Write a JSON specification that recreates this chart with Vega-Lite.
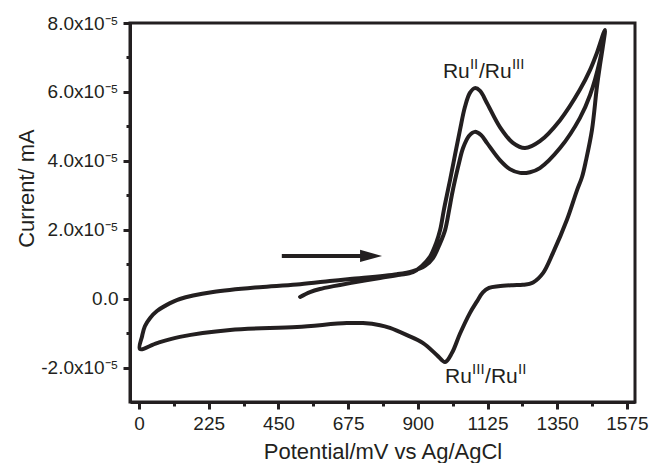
{
  "$schema": "https://vega.github.io/schema/vega-lite/v6.json",
  "width": 505,
  "height": 379,
  "autosize": "none",
  "padding": {"left": 130, "top": 23, "right": 17, "bottom": 61},
  "background": "white",
  "config": {
    "view": {"stroke": "#231f20", "strokeWidth": 3},
    "font": "Liberation Sans",
    "text": {"font": "Liberation Sans", "color": "#231f20"},
    "axis": {
      "grid": false,
      "domainColor": "#231f20", "domainWidth": 3,
      "tickColor": "#231f20", "tickWidth": 3,
      "labelColor": "#231f20", "labelFont": "Liberation Sans", "labelFontSize": 19,
      "titleColor": "#231f20", "titleFont": "Liberation Sans", "titleFontSize": 22, "titleFontWeight": "normal"
    }
  },
  "resolve": {"axis": {"x": "independent", "y": "independent"}},
  "datasets": {
    "cv": [
      {"i": 1, "E": 520, "I": 0.05e-5},
      {"i": 2, "E": 552, "I": 0.19e-5},
      {"i": 3, "E": 584, "I": 0.28e-5},
      {"i": 4, "E": 633, "I": 0.37e-5},
      {"i": 5, "E": 681, "I": 0.45e-5},
      {"i": 6, "E": 778, "I": 0.60e-5},
      {"i": 7, "E": 842, "I": 0.69e-5},
      {"i": 8, "E": 884, "I": 0.77e-5},
      {"i": 9, "E": 913, "I": 0.95e-5},
      {"i": 10, "E": 939, "I": 1.21e-5},
      {"i": 11, "E": 959, "I": 1.61e-5},
      {"i": 12, "E": 972, "I": 1.99e-5},
      {"i": 13, "E": 984, "I": 2.57e-5},
      {"i": 14, "E": 994, "I": 3.01e-5},
      {"i": 15, "E": 1004, "I": 3.44e-5},
      {"i": 16, "E": 1020, "I": 4.17e-5},
      {"i": 17, "E": 1036, "I": 4.89e-5},
      {"i": 18, "E": 1052, "I": 5.56e-5},
      {"i": 19, "E": 1068, "I": 5.97e-5},
      {"i": 20, "E": 1084, "I": 6.11e-5},
      {"i": 21, "E": 1101, "I": 6.03e-5},
      {"i": 22, "E": 1123, "I": 5.68e-5},
      {"i": 23, "E": 1165, "I": 4.98e-5},
      {"i": 24, "E": 1207, "I": 4.52e-5},
      {"i": 25, "E": 1246, "I": 4.37e-5},
      {"i": 26, "E": 1294, "I": 4.57e-5},
      {"i": 27, "E": 1359, "I": 5.18e-5},
      {"i": 28, "E": 1423, "I": 6.06e-5},
      {"i": 29, "E": 1456, "I": 6.64e-5},
      {"i": 30, "E": 1478, "I": 7.13e-5},
      {"i": 31, "E": 1504, "I": 7.80e-5},
      {"i": 32, "E": 1498, "I": 7.36e-5},
      {"i": 33, "E": 1488, "I": 6.78e-5},
      {"i": 34, "E": 1478, "I": 6.14e-5},
      {"i": 35, "E": 1462, "I": 4.89e-5},
      {"i": 36, "E": 1443, "I": 4.02e-5},
      {"i": 37, "E": 1430, "I": 3.53e-5},
      {"i": 38, "E": 1414, "I": 3.15e-5},
      {"i": 39, "E": 1381, "I": 2.28e-5},
      {"i": 40, "E": 1336, "I": 1.32e-5},
      {"i": 41, "E": 1304, "I": 0.74e-5},
      {"i": 42, "E": 1272, "I": 0.47e-5},
      {"i": 43, "E": 1239, "I": 0.40e-5},
      {"i": 44, "E": 1207, "I": 0.39e-5},
      {"i": 45, "E": 1160, "I": 0.36e-5},
      {"i": 46, "E": 1130, "I": 0.31e-5},
      {"i": 47, "E": 1110, "I": 0.18e-5},
      {"i": 48, "E": 1091, "I": -0.08e-5},
      {"i": 49, "E": 1068, "I": -0.42e-5},
      {"i": 50, "E": 1036, "I": -1.02e-5},
      {"i": 51, "E": 1010, "I": -1.58e-5},
      {"i": 52, "E": 988, "I": -1.84e-5},
      {"i": 53, "E": 962, "I": -1.64e-5},
      {"i": 54, "E": 917, "I": -1.29e-5},
      {"i": 55, "E": 865, "I": -1.06e-5},
      {"i": 56, "E": 810, "I": -0.85e-5},
      {"i": 57, "E": 778, "I": -0.77e-5},
      {"i": 58, "E": 723, "I": -0.71e-5},
      {"i": 59, "E": 671, "I": -0.71e-5},
      {"i": 60, "E": 510, "I": -0.82e-5},
      {"i": 61, "E": 294, "I": -0.91e-5},
      {"i": 62, "E": 132, "I": -1.11e-5},
      {"i": 63, "E": 58, "I": -1.29e-5},
      {"i": 64, "E": 3, "I": -1.46e-5},
      {"i": 65, "E": 10, "I": -1.09e-5},
      {"i": 66, "E": 19, "I": -0.80e-5},
      {"i": 67, "E": 36, "I": -0.56e-5},
      {"i": 68, "E": 58, "I": -0.36e-5},
      {"i": 69, "E": 84, "I": -0.21e-5},
      {"i": 70, "E": 132, "I": -0.01e-5},
      {"i": 71, "E": 239, "I": 0.19e-5},
      {"i": 72, "E": 400, "I": 0.34e-5},
      {"i": 73, "E": 520, "I": 0.42e-5},
      {"i": 74, "E": 616, "I": 0.51e-5},
      {"i": 75, "E": 681, "I": 0.57e-5},
      {"i": 76, "E": 833, "I": 0.71e-5},
      {"i": 77, "E": 884, "I": 0.80e-5},
      {"i": 78, "E": 923, "I": 0.95e-5},
      {"i": 79, "E": 949, "I": 1.18e-5},
      {"i": 80, "E": 972, "I": 1.61e-5},
      {"i": 81, "E": 988, "I": 1.99e-5},
      {"i": 82, "E": 1001, "I": 2.57e-5},
      {"i": 83, "E": 1010, "I": 3.01e-5},
      {"i": 84, "E": 1020, "I": 3.44e-5},
      {"i": 85, "E": 1033, "I": 3.94e-5},
      {"i": 86, "E": 1046, "I": 4.37e-5},
      {"i": 87, "E": 1065, "I": 4.72e-5},
      {"i": 88, "E": 1084, "I": 4.84e-5},
      {"i": 89, "E": 1104, "I": 4.75e-5},
      {"i": 90, "E": 1123, "I": 4.52e-5},
      {"i": 91, "E": 1165, "I": 4.02e-5},
      {"i": 92, "E": 1197, "I": 3.76e-5},
      {"i": 93, "E": 1230, "I": 3.65e-5},
      {"i": 94, "E": 1262, "I": 3.67e-5},
      {"i": 95, "E": 1294, "I": 3.79e-5},
      {"i": 96, "E": 1359, "I": 4.37e-5},
      {"i": 97, "E": 1423, "I": 5.24e-5},
      {"i": 98, "E": 1456, "I": 5.91e-5},
      {"i": 99, "E": 1488, "I": 6.93e-5},
      {"i": 100, "E": 1504, "I": 7.74e-5}
    ],
    "arrow": [{"E1": 461, "E2": 742, "Ehead": 749, "I": 1.24e-5}],
    "notes": [
      {"id": 1, "E": 981, "I": 6.40e-5, "a": "Ru", "b": "II", "c": "/Ru", "d": "III"},
      {"id": 2, "E": 988, "I": -2.45e-5, "a": "Ru", "b": "III", "c": "/Ru", "d": "II"}
    ]
  },
  "layer": [
    {
      "data": {"name": "cv"},
      "mark": {"type": "line", "color": "#231f20", "strokeWidth": 4, "interpolate": "catmull-rom", "strokeJoin": "round", "strokeCap": "round"},
      "encoding": {
        "x": {
          "field": "E", "type": "quantitative",
          "scale": {"domain": [-29, 1601], "nice": false, "zero": false},
          "axis": {
            "orient": "bottom",
            "title": "Potential/mV vs Ag/AgCl",
            "values": [0, 225, 450, 675, 900, 1125, 1350, 1575],
            "format": "d",
            "tickSize": 7,
            "labelPadding": 5,
            "titleY": 56,
            "titleBaseline": "alphabetic"
          }
        },
        "y": {
          "field": "I", "type": "quantitative",
          "scale": {"domain": [-3e-5, 8e-5], "nice": false, "zero": false},
          "axis": {
            "orient": "left",
            "title": "Current/ mA",
            "values": [-2e-5, 0, 2e-5, 4e-5, 6e-5, 8e-5],
            "labelExpr": "round(datum.value*1e5) == 0 ? '0.0' : (datum.value < 0 ? '-' : '') + format(abs(datum.value*1e5), '.1f') + 'x10⁻⁵'",
            "tickSize": 7,
            "labelPadding": 5,
            "titleX": -97,
            "titleY": 165,
            "titleBaseline": "alphabetic"
          }
        },
        "order": {"field": "i", "type": "quantitative"}
      }
    },
    {
      "data": {"name": "arrow"},
      "mark": {"type": "rule", "color": "#231f20", "strokeWidth": 4},
      "encoding": {
        "x": {"field": "E1", "type": "quantitative",
          "axis": {"orient": "bottom", "values": [112.5, 337.5, 562.5, 787.5, 1012.5, 1237.5, 1462.5], "labels": false, "domain": false, "title": null, "tickSize": 4}},
        "x2": {"field": "E2"},
        "y": {"field": "I", "type": "quantitative",
          "axis": {"orient": "left", "values": [-1e-5, 1e-5, 3e-5, 5e-5, 7e-5], "labels": false, "domain": false, "title": null, "tickSize": 4}}
      }
    },
    {
      "data": {"name": "arrow"},
      "mark": {"type": "point", "shape": "M-1,-0.55L1,0L-1,0.55Z", "filled": true, "color": "#231f20", "opacity": 1, "size": 484},
      "encoding": {
        "x": {"field": "Ehead", "type": "quantitative", "axis": null},
        "y": {"field": "I", "type": "quantitative", "axis": null}
      }
    },
    {
      "data": {"name": "notes"},
      "mark": {"type": "text", "align": "left", "baseline": "alphabetic", "fontSize": 21},
      "encoding": {"x": {"field": "E", "type": "quantitative", "axis": null}, "y": {"field": "I", "type": "quantitative", "axis": null}, "text": {"field": "a"}}
    },
    {
      "data": {"name": "notes"},
      "mark": {"type": "text", "align": "left", "baseline": "alphabetic", "fontSize": 15, "dx": 27, "dy": -9},
      "encoding": {"x": {"field": "E", "type": "quantitative", "axis": null}, "y": {"field": "I", "type": "quantitative", "axis": null}, "text": {"field": "b"}}
    },
    {
      "data": {"name": "notes"},
      "transform": [{"filter": "datum.id == 1"}],
      "mark": {"type": "text", "align": "left", "baseline": "alphabetic", "fontSize": 21, "dx": 36},
      "encoding": {"x": {"field": "E", "type": "quantitative", "axis": null}, "y": {"field": "I", "type": "quantitative", "axis": null}, "text": {"field": "c"}}
    },
    {
      "data": {"name": "notes"},
      "transform": [{"filter": "datum.id == 1"}],
      "mark": {"type": "text", "align": "left", "baseline": "alphabetic", "fontSize": 15, "dx": 69, "dy": -9},
      "encoding": {"x": {"field": "E", "type": "quantitative", "axis": null}, "y": {"field": "I", "type": "quantitative", "axis": null}, "text": {"field": "d"}}
    },
    {
      "data": {"name": "notes"},
      "transform": [{"filter": "datum.id == 2"}],
      "mark": {"type": "text", "align": "left", "baseline": "alphabetic", "fontSize": 21, "dx": 40},
      "encoding": {"x": {"field": "E", "type": "quantitative", "axis": null}, "y": {"field": "I", "type": "quantitative", "axis": null}, "text": {"field": "c"}}
    },
    {
      "data": {"name": "notes"},
      "transform": [{"filter": "datum.id == 2"}],
      "mark": {"type": "text", "align": "left", "baseline": "alphabetic", "fontSize": 15, "dx": 73, "dy": -9},
      "encoding": {"x": {"field": "E", "type": "quantitative", "axis": null}, "y": {"field": "I", "type": "quantitative", "axis": null}, "text": {"field": "d"}}
    }
  ]
}
